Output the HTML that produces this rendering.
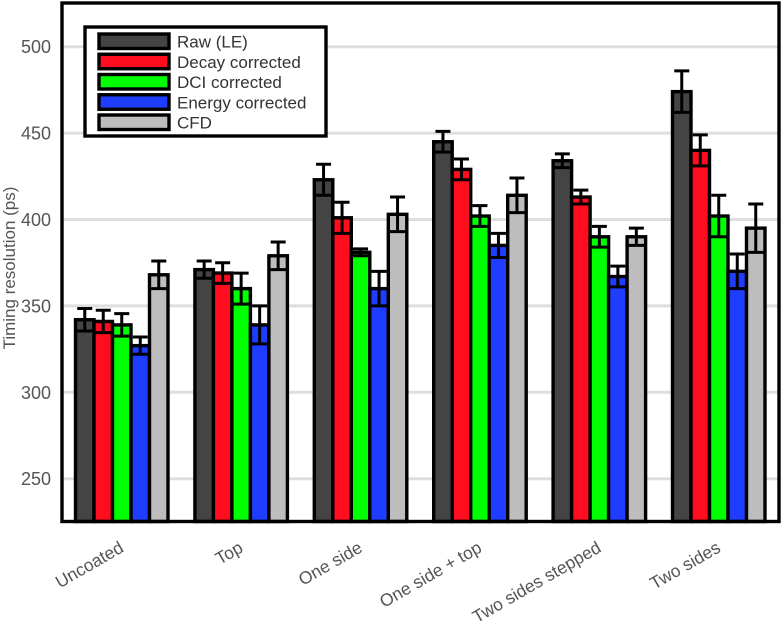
<!DOCTYPE html>
<html>
<head>
<meta charset="utf-8">
<title>Timing resolution chart</title>
<style>
html,body{margin:0;padding:0;background:#fff;width:783px;height:621px;overflow:hidden}
svg{display:block}
text{font-family:"Liberation Sans",sans-serif}
</style>
</head>
<body>
<svg id="chart" xmlns="http://www.w3.org/2000/svg" width="783" height="621" viewBox="0 0 783 621"></svg>
<script>
const categories = ["Uncoated", "Top", "One side", "One side + top", "Two sides stepped", "Two sides"];
const seriesNames = ["Raw (LE)", "Decay corrected", "DCI corrected", "Energy corrected", "CFD"];
const rawValues = [342, 371, 423, 445, 434, 474];
const decayValues = [341, 369, 401, 429, 413, 440];
const dciValues = [339, 360, 381, 402, 390, 402];
const energyValues = [327, 339, 360, 385, 367, 370];
const cfdValues = [368, 379, 403, 414, 390, 395];
const rawErrors = [6.5, 5, 9, 6, 4, 12];
const decayErrors = [6.5, 6, 9, 6, 4, 9];
const dciErrors = [6.5, 9, 2, 6, 6, 12];
const energyErrors = [5, 11, 10, 7, 6, 10];
const cfdErrors = [8, 8, 10, 10, 5, 14];
const yTicks = [250, 300, 350, 400, 450, 500];
const seriesColors = ["#444444", "#ff0d1e", "#00ff00", "#1f3dff", "#bdbdbd"];

const allValues = [rawValues, decayValues, dciValues, energyValues, cfdValues];
const allErrors = [rawErrors, decayErrors, dciErrors, energyErrors, cfdErrors];

const svg = document.getElementById('chart');
const NS = 'http://www.w3.org/2000/svg';
function make(tag, attrs, text) {
  const el = document.createElementNS(NS, tag);
  for (const k in attrs) el.setAttribute(k, attrs[k]);
  if (text !== undefined) el.textContent = text;
  svg.appendChild(el);
  return el;
}
const plotL = 62, plotR = 779, plotT = 3, plotB = 521.5;
function yScale(v) { return 46.7 + (500 - v) * 1.728; }
const barW = 18.5, groupStep = 119.4, firstX = 75.5;
function xScale(g, s) { return firstX + g * groupStep + s * barW; }

for (const t of yTicks) {
  const grid = make('line', {x1: plotL, x2: plotR, y1: yScale(t), y2: yScale(t), stroke: '#dedede', 'stroke-width': 3});
  
  
  const lab = make('text', {x: 51, y: yScale(t) + 6.5, 'text-anchor': 'end', 'font-size': 18, fill: '#555'}, String(t));
  
  
}

categories.forEach(function (cat, g) {
  seriesNames.forEach(function (name, s) {
    const v = allValues[s][g];
    const x = xScale(g, s), y = yScale(v);
    const bar = make('rect', {x: x, y: y, width: barW, height: plotB - y, fill: seriesColors[s], stroke: '#000', 'stroke-width': 3.4});
    
    
  });
  seriesNames.forEach(function (name, s) {
    const v = allValues[s][g], e = allErrors[s][g];
    const cx = xScale(g, s) + barW / 2;
    const err = make('path', {
      d: 'M' + cx + ' ' + yScale(v + e) + 'V' + yScale(v - e) +
         'M' + (cx - 7.5) + ' ' + yScale(v + e) + 'H' + (cx + 7.5) +
         'M' + (cx - 9) + ' ' + yScale(v - e) + 'H' + (cx + 9),
      fill: 'none', stroke: '#000', 'stroke-width': 3
    });
    
    
  });
  const ax = firstX + g * groupStep + barW * 2.5 + 3;
  const lab = make('text', {x: 0, y: 0, 'text-anchor': 'end', 'font-size': 17.5, fill: '#555',
    transform: 'translate(' + ax + ' 551) rotate(-30)'}, cat);
  
  
});

const frame = make('rect', {x: plotL, y: plotT, width: plotR - plotL, height: plotB - plotT, fill: 'none', stroke: '#000', 'stroke-width': 3.4});



const yTitle = make('text', {x: 0, y: 0, 'text-anchor': 'middle', 'font-size': 17, fill: '#555',
  transform: 'translate(15 268) rotate(-90)'}, 'Timing resolution (ps)');



const legendBox = make('rect', {x: 85, y: 27, width: 241, height: 109, fill: '#fff', stroke: '#000', 'stroke-width': 3.4});


seriesNames.forEach(function (name, s) {
  const rowY = 34 + s * 20.25;
  const sw = make('rect', {x: 99, y: rowY, width: 70, height: 14.5, fill: seriesColors[s], stroke: '#000', 'stroke-width': 3.4});
  
  
  const lab = make('text', {x: 177, y: rowY + 13.5, 'font-size': 17, fill: '#333'}, name);
  
  
});
</script>
</body>
</html>
